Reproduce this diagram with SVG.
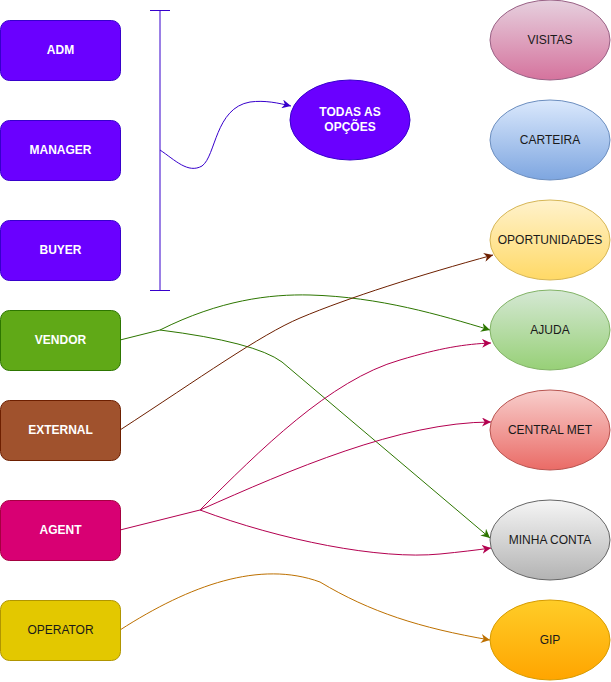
<svg xmlns="http://www.w3.org/2000/svg" width="611" height="682" viewBox="0 0 611 682">
  <defs>
    <style>
      .box { stroke-width: 1; }
      .lbl { font-family: "Liberation Sans", Arial, Helvetica, sans-serif; font-size: 12px; text-anchor: middle; dominant-baseline: central; }
      .wb { fill: #ffffff; font-weight: bold; }
      .dk { fill: #1a1a1a; }
      .edge { fill: none; stroke-width: 1; }
    </style>
    <linearGradient id="gVis" x1="0" y1="0" x2="0" y2="1"><stop offset="0" stop-color="#e6d0de"/><stop offset="1" stop-color="#d5739d"/></linearGradient>
    <linearGradient id="gCar" x1="0" y1="0" x2="0" y2="1"><stop offset="0" stop-color="#dae8fc"/><stop offset="1" stop-color="#7ea6e0"/></linearGradient>
    <linearGradient id="gOpo" x1="0" y1="0" x2="0" y2="1"><stop offset="0" stop-color="#fff2cc"/><stop offset="1" stop-color="#ffd966"/></linearGradient>
    <linearGradient id="gAju" x1="0" y1="0" x2="0" y2="1"><stop offset="0" stop-color="#d5e8d4"/><stop offset="1" stop-color="#97d077"/></linearGradient>
    <linearGradient id="gCen" x1="0" y1="0" x2="0" y2="1"><stop offset="0" stop-color="#f8cecc"/><stop offset="1" stop-color="#ea6b66"/></linearGradient>
    <linearGradient id="gMin" x1="0" y1="0" x2="0" y2="1"><stop offset="0" stop-color="#f5f5f5"/><stop offset="1" stop-color="#b3b3b3"/></linearGradient>
    <linearGradient id="gGip" x1="0" y1="0" x2="0" y2="1"><stop offset="0" stop-color="#ffcd28"/><stop offset="1" stop-color="#ffa500"/></linearGradient>
    <marker id="aPur" viewBox="0 0 10 10" refX="10" refY="5" markerWidth="9" markerHeight="9" markerUnits="userSpaceOnUse" orient="auto"><path d="M0,0 L10,5 L0,10 L3,5 z" fill="#3700cc"/></marker>
    <marker id="aGrn" viewBox="0 0 10 10" refX="10" refY="5" markerWidth="9" markerHeight="9" markerUnits="userSpaceOnUse" orient="auto"><path d="M0,0 L10,5 L0,10 L3,5 z" fill="#2d7600"/></marker>
    <marker id="aBrn" viewBox="0 0 10 10" refX="10" refY="5" markerWidth="9" markerHeight="9" markerUnits="userSpaceOnUse" orient="auto"><path d="M0,0 L10,5 L0,10 L3,5 z" fill="#6d1f00"/></marker>
    <marker id="aMag" viewBox="0 0 10 10" refX="10" refY="5" markerWidth="9" markerHeight="9" markerUnits="userSpaceOnUse" orient="auto"><path d="M0,0 L10,5 L0,10 L3,5 z" fill="#b3004f"/></marker>
    <marker id="aOrg" viewBox="0 0 10 10" refX="10" refY="5" markerWidth="9" markerHeight="9" markerUnits="userSpaceOnUse" orient="auto"><path d="M0,0 L10,5 L0,10 L3,5 z" fill="#bd7000"/></marker>
  </defs>

  <rect width="611" height="682" fill="#ffffff"/>

  <!-- connectors -->
  <g id="connectors">
    <!-- bracket grouping the first three roles -->
    <path class="edge" stroke="#3700cc" d="M150,10.5 H170 M160,10 V290 M150,290.5 H170"/>
    <path class="edge" stroke="#3700cc" marker-end="url(#aPur)" d="M160,150 C175,160 188,174 202,166 C216,156 215,108 250,102 C265,100 278,103 291,106"/>
    <!-- VENDOR -->
    <path class="edge" stroke="#2d7600" d="M120,340 L160,330"/>
    <path class="edge" stroke="#2d7600" marker-end="url(#aGrn)" d="M160,330 C220,300 270,294 310,295 C380,297 440,315 490,330"/>
    <path class="edge" stroke="#2d7600" marker-end="url(#aGrn)" d="M160,330 Q255,342 282,362 L490,538"/>
    <!-- EXTERNAL -->
    <path class="edge" stroke="#6d1f00" marker-end="url(#aBrn)" d="M120,430 C200,378 260,335 300,318 C350,297 420,275 493,255"/>
    <!-- AGENT -->
    <path class="edge" stroke="#b3004f" d="M120,530 L200,510"/>
    <path class="edge" stroke="#b3004f" marker-end="url(#aMag)" d="M200,510 C260,450 330,380 400,360 C440,348 465,344 491,343"/>
    <path class="edge" stroke="#b3004f" marker-end="url(#aMag)" d="M200,510 C290,470 400,422 491,422"/>
    <path class="edge" stroke="#b3004f" marker-end="url(#aMag)" d="M200,510 C280,540 380,560 440,554 Q470,551 491,548"/>
    <!-- OPERATOR -->
    <path class="edge" stroke="#bd7000" marker-end="url(#aOrg)" d="M120,630 C190,585 260,560 320,582 C370,612 420,628 490,640"/>
  </g>

  <!-- role boxes -->
  <g id="adm"><rect class="box" x="0.5" y="20.5" width="120" height="60" rx="9" fill="#6a00ff" stroke="#3700cc"/><text class="lbl wb" x="60.5" y="49.5">ADM</text></g>
  <g id="manager"><rect class="box" x="0.5" y="120.5" width="120" height="60" rx="9" fill="#6a00ff" stroke="#3700cc"/><text class="lbl wb" x="60.5" y="149.5">MANAGER</text></g>
  <g id="buyer"><rect class="box" x="0.5" y="220.5" width="120" height="60" rx="9" fill="#6a00ff" stroke="#3700cc"/><text class="lbl wb" x="60.5" y="249.5">BUYER</text></g>
  <g id="vendor"><rect class="box" x="0.5" y="310.5" width="120" height="60" rx="9" fill="#60a917" stroke="#2d7600"/><text class="lbl wb" x="60.5" y="339.5">VENDOR</text></g>
  <g id="external"><rect class="box" x="0.5" y="400.5" width="120" height="60" rx="9" fill="#a0522d" stroke="#6d1f00"/><text class="lbl wb" x="60.5" y="429.5">EXTERNAL</text></g>
  <g id="agent"><rect class="box" x="0.5" y="500.5" width="120" height="60" rx="9" fill="#d80073" stroke="#a50040"/><text class="lbl wb" x="60.5" y="529.5">AGENT</text></g>
  <g id="operator"><rect class="box" x="0.5" y="600.5" width="120" height="60" rx="9" fill="#e3c800" stroke="#b09500"/><text class="lbl dk" x="60.5" y="629.5">OPERATOR</text></g>

  <!-- all options -->
  <g id="todas"><ellipse cx="350" cy="120" rx="60" ry="40" fill="#6a00ff" stroke="#3700cc"/><text class="lbl wb" x="350" y="112">TODAS AS</text><text class="lbl wb" x="350" y="127">OPÇÕES</text></g>

  <!-- screens -->
  <g id="visitas"><ellipse cx="550" cy="40" rx="60" ry="40" fill="url(#gVis)" stroke="#996185"/><text class="lbl dk" x="550" y="39.5">VISITAS</text></g>
  <g id="carteira"><ellipse cx="550" cy="140" rx="60" ry="40" fill="url(#gCar)" stroke="#6c8ebf"/><text class="lbl dk" x="550" y="139.5">CARTEIRA</text></g>
  <g id="oportunidades"><ellipse cx="550" cy="240" rx="60" ry="40" fill="url(#gOpo)" stroke="#d6b656"/><text class="lbl dk" x="550" y="239.5">OPORTUNIDADES</text></g>
  <g id="ajuda"><ellipse cx="550" cy="330" rx="60" ry="40" fill="url(#gAju)" stroke="#82b366"/><text class="lbl dk" x="550" y="329.5">AJUDA</text></g>
  <g id="central-met"><ellipse cx="550" cy="430" rx="60" ry="40" fill="url(#gCen)" stroke="#b85450"/><text class="lbl dk" x="550" y="429.5">CENTRAL MET</text></g>
  <g id="minha-conta"><ellipse cx="550" cy="540" rx="60" ry="40" fill="url(#gMin)" stroke="#666666"/><text class="lbl dk" x="550" y="539.5">MINHA CONTA</text></g>
  <g id="gip"><ellipse cx="550" cy="640" rx="60" ry="40" fill="url(#gGip)" stroke="#d79b00"/><text class="lbl dk" x="550" y="639.5">GIP</text></g>
</svg>
